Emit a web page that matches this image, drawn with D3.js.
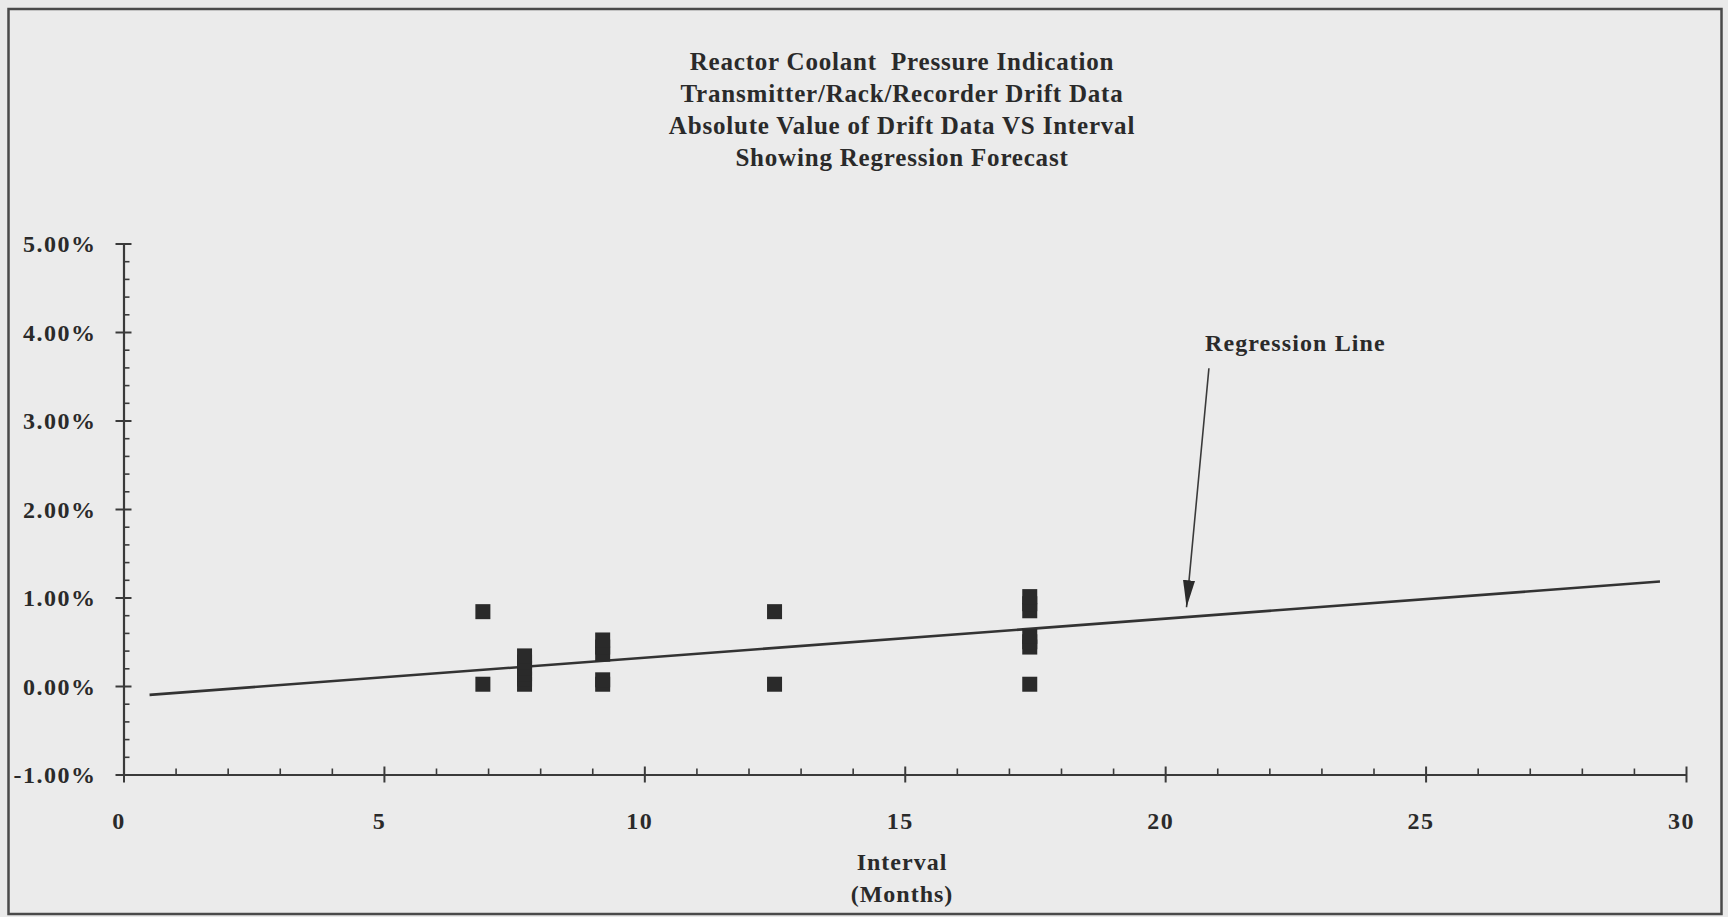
<!DOCTYPE html>
<html><head><meta charset="utf-8">
<script src="https://cdn.jsdelivr.net/npm/d3@7"></script>
<style>
html,body{margin:0;padding:0;background:#eaeaea;}
svg{display:block;}
text{font-family:"Liberation Serif","Times New Roman",serif;font-weight:bold;fill:#2a2a2a;}
</style></head><body>
<svg id="chart" width="1728" height="917"></svg>
<script>
// ---- data ----
const titleLines = [
  "Reactor Coolant  Pressure Indication",
  "Transmitter/Rack/Recorder Drift Data",
  "Absolute Value of Drift Data VS Interval",
  "Showing Regression Forecast"
];
const xTickValues = [0, 5, 10, 15, 20, 25, 30];
const yTickValues = [-1, 0, 1, 2, 3, 4, 5];
const yTickLabels = ["-1.00%", "0.00%", "1.00%", "2.00%", "3.00%", "4.00%", "5.00%"];
const intervalMonths = [6.9, 6.9,
  7.7, 7.7, 7.7, 7.7, 7.7, 7.7,
  9.2, 9.2, 9.2, 9.2, 9.2,
  12.5, 12.5,
  17.4, 17.4, 17.4, 17.4, 17.4, 17.4, 17.4];
const driftPercent = [0.84, 0.02,
  0.02, 0.08, 0.14, 0.20, 0.27, 0.34,
  0.02, 0.07, 0.36, 0.44, 0.52,
  0.84, 0.02,
  0.02, 0.44, 0.50, 0.56, 0.85, 0.93, 1.01];
const regressionX = [0.5, 29.5];
const regressionY = [-0.10, 1.18];
const xAxisTitle = ["Interval", "(Months)"];
const annotationText = "Regression Line";
const annotationFrom = [20.84, 3.59];
const annotationTo = [20.41, 0.89];
const annotationLabelAt = [22.5, 3.79];

// ---- layout ----
const svg = d3.select("#chart");
const x = d3.scaleLinear().domain([0, 30]).range([123.5, 1686]);
const y = d3.scaleLinear().domain([-1, 5]).range([774.5, 243.5]);
const ink = "#2a2a2a";
const axisInk = "#3a3a3a";
const labelStyle = sel => sel.attr("fill", ink).style("font-size", "24px").style("letter-spacing", "1.5px")
  .style("font-family", "'Liberation Serif', serif").style("font-weight", "bold");

// frame
svg.append("rect").attr("x", 8.5).attr("y", 9).attr("width", 1713).attr("height", 905)
  .attr("fill", "#ebebeb").attr("stroke", "#4a4a4a").attr("stroke-width", 2.5);

// title
svg.append("g").selectAll("text").data(titleLines).join("text")
  .attr("x", 902).attr("y", (d, i) => 70 + i * 32)
  .attr("text-anchor", "middle").style("font-size", "25px").style("letter-spacing", "0.8px")
  .style("white-space", "pre").text(d => d);

// y axis minor ticks
const yMinor = d3.range(-1, 5.0001, 0.2).filter(v => Math.abs(v - Math.round(v)) > 1e-6);
svg.append("g").attr("transform", `translate(${x(0)},0)`)
  .call(d3.axisRight(y).tickValues(yMinor).tickSize(6).tickFormat(""))
  .call(g => g.select(".domain").remove())
  .call(g => g.selectAll("line").attr("stroke", axisInk).attr("stroke-width", 1.6));
// y axis major
svg.append("g").attr("transform", `translate(${x(0)},0)`)
  .call(d3.axisLeft(y).tickValues(yTickValues).tickSizeOuter(0)
    .tickFormat((d, i) => yTickLabels[i]))
  .call(g => g.select(".domain").attr("stroke", axisInk).attr("stroke-width", 2.2))
  .call(g => g.selectAll(".tick line").attr("x1", 8).attr("x2", -8)
    .attr("stroke", axisInk).attr("stroke-width", 2))
  .call(g => g.selectAll(".tick text").attr("x", -27).attr("dy", "0.35em").call(labelStyle));

// x axis minor
const xMinor = d3.range(1, 30).filter(v => v % 5 !== 0);
svg.append("g").attr("transform", `translate(0,${y(-1)})`)
  .call(d3.axisTop(x).tickValues(xMinor).tickSize(6).tickFormat(""))
  .call(g => g.select(".domain").remove())
  .call(g => g.selectAll("line").attr("stroke", axisInk).attr("stroke-width", 1.6));
// x axis major
svg.append("g").attr("transform", `translate(0,${y(-1)})`)
  .call(d3.axisBottom(x).tickValues(xTickValues).tickSizeOuter(0).tickFormat(d3.format("d")))
  .call(g => g.select(".domain").attr("stroke", axisInk).attr("stroke-width", 2.2))
  .call(g => g.selectAll(".tick line").attr("y1", -8).attr("y2", 8)
    .attr("stroke", axisInk).attr("stroke-width", 2))
  .call(g => g.selectAll(".tick text").attr("y", 54).attr("dy", 0).attr("dx", -5).call(labelStyle));

// x axis title
svg.append("g").selectAll("text").data(xAxisTitle).join("text")
  .attr("x", 902).attr("y", (d, i) => 870 + i * 31.5)
  .attr("text-anchor", "middle").style("font-size", "24px").style("letter-spacing", "1px")
  .text(d => d);

// regression line
const reg = regressionX.map((v, i) => [v, regressionY[i]]);
svg.append("path").datum(reg)
  .attr("d", d3.line().x(d => x(d[0])).y(d => y(d[1])))
  .attr("fill", "none").attr("stroke", "#333").attr("stroke-width", 2.6);

// data squares
const pts = intervalMonths.map((v, i) => ({ m: v, d: driftPercent[i] }));
const sq = 15;
svg.append("g").selectAll("rect").data(pts).join("rect")
  .attr("x", d => x(d.m) - sq / 2).attr("y", d => y(d.d) - sq / 2)
  .attr("width", sq).attr("height", sq).attr("fill", "#2a2a2a");

// annotation arrow
svg.append("defs").append("marker").attr("id", "ah")
  .attr("viewBox", "0 0 27 12").attr("refX", 27).attr("refY", 6)
  .attr("markerWidth", 27).attr("markerHeight", 12).attr("markerUnits", "userSpaceOnUse")
  .attr("orient", "auto")
  .append("path").attr("d", "M0,0 L27,6 L0,12 Z").attr("fill", "#2a2a2a");
svg.append("line")
  .attr("x1", x(annotationFrom[0])).attr("y1", y(annotationFrom[1]))
  .attr("x2", x(annotationTo[0])).attr("y2", y(annotationTo[1]))
  .attr("stroke", "#3a3a3a").attr("stroke-width", 1.6).attr("marker-end", "url(#ah)");
svg.append("text").attr("x", x(annotationLabelAt[0])).attr("y", y(annotationLabelAt[1]))
  .attr("text-anchor", "middle").style("font-size", "24px").style("letter-spacing", "1.1px")
  .text(annotationText);
</script>
</body></html>
